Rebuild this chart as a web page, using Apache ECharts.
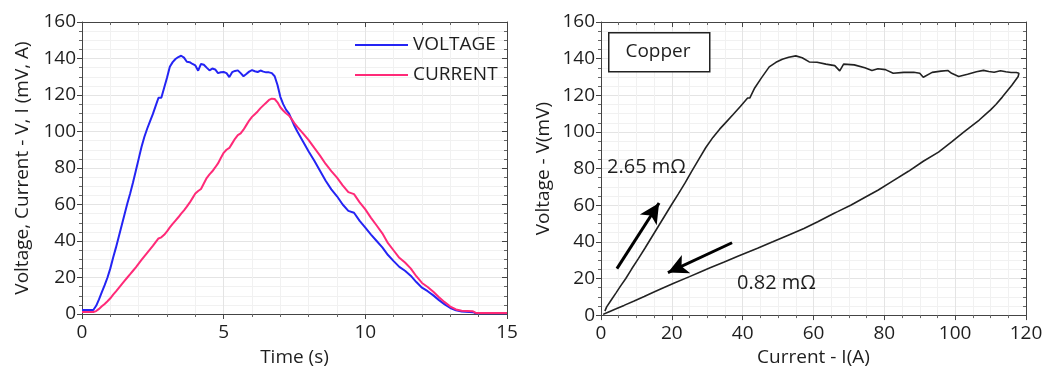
<!DOCTYPE html>
<html>
<head>
<meta charset="utf-8">
<style>
  html, body { margin: 0; padding: 0; background: #fff; }
  #chart { width: 1046px; height: 372px; }
</style>
<script src="https://cdn.jsdelivr.net/npm/echarts@6/dist/echarts.min.js"></script>
</head>
<body>
<div id="chart"></div>
<script>
// time (s) with measured voltage (mV) and current (A)
const time = [0, 0.4, 0.5, 0.6, 0.7, 0.8, 0.9, 1.0, 1.1, 1.2, 1.3, 1.4, 1.5, 1.6, 1.7, 1.8, 1.9,
  2.0, 2.1, 2.2, 2.3, 2.4, 2.5, 2.6, 2.7, 2.8, 2.9, 3.0, 3.1, 3.2, 3.3, 3.4, 3.5, 3.6, 3.7, 3.8, 3.9,
  4.0, 4.1, 4.2, 4.3, 4.4, 4.5, 4.6, 4.7, 4.8, 4.9, 5.0, 5.1, 5.2, 5.3, 5.4, 5.5, 5.6, 5.7, 5.8, 5.9,
  6.0, 6.1, 6.2, 6.3, 6.4, 6.5, 6.6, 6.7, 6.8, 6.9, 7.0, 7.1, 7.2, 7.3, 7.4, 7.5, 7.6, 7.8,
  8.0, 8.2, 8.4, 8.6, 8.8, 9.0, 9.2, 9.4, 9.6, 9.8, 10.0, 10.2, 10.4, 10.6, 10.8, 11.0, 11.2, 11.4,
  11.6, 11.8, 12.0, 12.2, 12.4, 12.6, 12.8, 13.0, 13.2, 13.4, 13.8, 13.9, 15]
const voltage = [2.2, 2.2, 4.5, 8, 12, 15.8, 20, 25, 31, 36.5, 42.5, 48.5, 54.5, 60.5, 66, 72, 78.5,
  85, 91.5, 97, 101.5, 105.5, 109.5, 114, 118.5, 118.5, 124, 129.5, 135.5, 138, 139.7, 140.8, 141.5, 140.5, 138.2, 138, 137,
  136.2, 133.3, 137, 136.6, 135, 133.5, 134.5, 134, 132, 132.5, 132.6, 132, 129.8, 132.5, 133.2, 133.5, 132, 130.3, 131.5, 132.8,
  133.6, 133, 132.6, 133.4, 132.8, 132.4, 132.4, 132, 130.3, 125.5, 119, 115, 112, 110, 106.5, 103, 100, 94.5,
  89, 84, 78.5, 73, 68.3, 64.5, 60, 56.5, 55.5, 51, 47.3, 43.5, 40, 36.5, 32.3, 29, 25.8, 23.7,
  21, 17.5, 14.4, 12.5, 10.2, 7.6, 5.3, 3.3, 2, 1.4, 1, 0.4, 0.4]
const current = [1.1, 1.1, 1.6, 2.8, 4.2, 5.5, 7, 8.6, 10.6, 12.4, 14.3, 16.2, 18.1, 20, 21.8, 23.7, 25.6,
  27.6, 29.6, 31.6, 33.5, 35.4, 37.3, 39.4, 41.4, 42, 43.4, 45.3, 47.5, 49.4, 51.2, 53, 55, 56.8, 58.8, 61, 63.5,
  66, 67.4, 68.5, 71.5, 74.5, 76.5, 78.2, 80.3, 82.5, 85.5, 88.3, 90, 91, 93.5, 96, 98, 99, 101, 103.5, 106,
  108, 109.5, 111, 112.8, 114.3, 115.8, 117.3, 118, 117.8, 116, 113.3, 111.5, 110, 108.8, 106.8, 104.5, 102.5, 99,
  95.3, 91, 86.8, 82.2, 78.3, 74.7, 70.5, 66.8, 65.7, 61.2, 57.3, 52.7, 48.5, 44.2, 38.8, 34.8, 30.8, 28.2,
  25, 20.7, 17, 14.8, 12.2, 9.2, 6.5, 4.1, 2.5, 1.8, 1.5, 0.6, 0.6]

// annotation arrows on the V-I plot, [current, voltage] start -> end
const arrowUp = [[4.5, 25.4], [16.4, 61.2]]
const arrowDown = [[37, 39.5], [18.9, 23.2]]

const FONT = '"Open Sans", "DejaVu Sans", sans-serif'
const TXT = '#1e1e1e'

const chart = echarts.init(document.getElementById('chart'))

function mainX(grid, max, interval, split, name, gap) {
  return {
    type: 'value', gridIndex: grid, min: 0, max: max, interval: interval,
    name: name, nameLocation: 'middle', nameGap: gap,
    nameTextStyle: { color: TXT, fontSize: 19, fontFamily: FONT },
    axisLine: { lineStyle: { color: '#444', width: 1 } },
    axisTick: { length: 5, lineStyle: { color: '#444' } },
    minorTick: { show: true, splitNumber: split, length: 3, lineStyle: { color: '#666' } },
    axisLabel: { color: TXT, fontSize: 19, fontFamily: FONT, margin: 9 },
    splitLine: { show: true, lineStyle: { color: '#e4e4e4' } },
    minorSplitLine: { show: true, lineStyle: { color: '#f1f1f1' } },
  }
}
function mainY(grid, name, gap) {
  return {
    type: 'value', gridIndex: grid, min: 0, max: 160, interval: 20,
    name: name, nameLocation: 'middle', nameGap: gap,
    nameTextStyle: { color: TXT, fontSize: 19, fontFamily: FONT },
    axisLine: { show: true, lineStyle: { color: '#444', width: 1 } },
    axisTick: { show: true, length: 5, lineStyle: { color: '#444' } },
    minorTick: { show: true, splitNumber: 4, length: 3, lineStyle: { color: '#666' } },
    axisLabel: { color: TXT, fontSize: 19, fontFamily: FONT, margin: 6 },
    splitLine: { show: true, lineStyle: { color: '#e4e4e4' } },
    minorSplitLine: { show: true, lineStyle: { color: '#f1f1f1' } },
  }
}
function sideAxis(grid, pos, max, interval, split) {
  return {
    type: 'value', gridIndex: grid, position: pos, min: 0, max: max, interval: interval,
    axisLine: { show: true, onZero: false, lineStyle: { color: '#444', width: 1 } },
    axisTick: { show: true, inside: true, length: 5, lineStyle: { color: '#444' } },
    minorTick: { show: true, splitNumber: split, length: 3, lineStyle: { color: '#666' } },
    axisLabel: { show: false },
    splitLine: { show: false },
  }
}

chart.setOption({
  animation: false,
  grid: [
    { left: 82, top: 22, width: 425, height: 294 },
    { left: 601, top: 22, width: 425, height: 294 },
  ],
  xAxis: [
    mainX(0, 15, 5, 5, 'Time (s)', 34),
    sideAxis(0, 'top', 15, 5, 5),
    mainX(1, 120, 20, 4, 'Current - I(A)', 26),
    sideAxis(1, 'top', 120, 20, 4),
  ],
  yAxis: [
    mainY(0, 'Voltage, Current - V, I (mV, A)', 50),
    sideAxis(0, 'right', 160, 20, 4),
    mainY(1, 'Voltage - V(mV)', 48),
    sideAxis(1, 'right', 160, 20, 4),
  ],
  legend: {
    orient: 'vertical', left: 350, top: 30, itemGap: 10,
    icon: 'rect', itemWidth: 53, itemHeight: 2,
    textStyle: { color: TXT, fontSize: 19, fontFamily: FONT, lineHeight: 20 },
    data: ['VOLTAGE', 'CURRENT'],
  },
  graphic: [
    { type: 'rect', z: 100, left: 608, top: 32, shape: { width: 101, height: 39 },
      style: { fill: '#fff', stroke: '#222', lineWidth: 1.5 } },
    { type: 'text', z: 101, x: 658, y: 52, style: { text: 'Copper', fill: TXT, font: '19px ' + FONT, align: 'center', verticalAlign: 'middle' } },
    { type: 'text', z: 101, x: 607, y: 167, style: { text: '2.65 mΩ', fill: TXT, font: '20px ' + FONT, verticalAlign: 'middle' } },
    { type: 'text', z: 101, x: 737, y: 283, style: { text: '0.82 mΩ', fill: TXT, font: '20px ' + FONT, verticalAlign: 'middle' } },
  ],
  series: [
    {
      name: 'VOLTAGE', type: 'line', xAxisIndex: 0, yAxisIndex: 0,
      data: time.map((t, i) => [t, voltage[i]]),
      showSymbol: false, symbol: 'none',
      lineStyle: { color: '#2424f4', width: 2 }, itemStyle: { color: '#2424f4' },
    },
    {
      name: 'CURRENT', type: 'line', xAxisIndex: 0, yAxisIndex: 0,
      data: time.map((t, i) => [t, current[i]]),
      showSymbol: false, symbol: 'none',
      lineStyle: { color: '#ff2a78', width: 2 }, itemStyle: { color: '#ff2a78' },
    },
    {
      name: 'V-I', type: 'line', xAxisIndex: 2, yAxisIndex: 2,
      data: current.map((c, i) => [c, voltage[i]]),
      showSymbol: false, symbol: 'none',
      lineStyle: { color: '#222', width: 1.6 },
      markLine: {
        silent: true, animation: false,
        symbol: ['none', 'arrow'], symbolSize: [15, 20],
        label: { show: false },
        lineStyle: { color: '#000', width: 3, type: 'solid' },
        data: [
          [{ coord: arrowUp[0] }, { coord: arrowUp[1] }],
          [{ coord: arrowDown[0] }, { coord: arrowDown[1] }],
        ],
      },
    },
  ],
})
</script>
</body>
</html>
